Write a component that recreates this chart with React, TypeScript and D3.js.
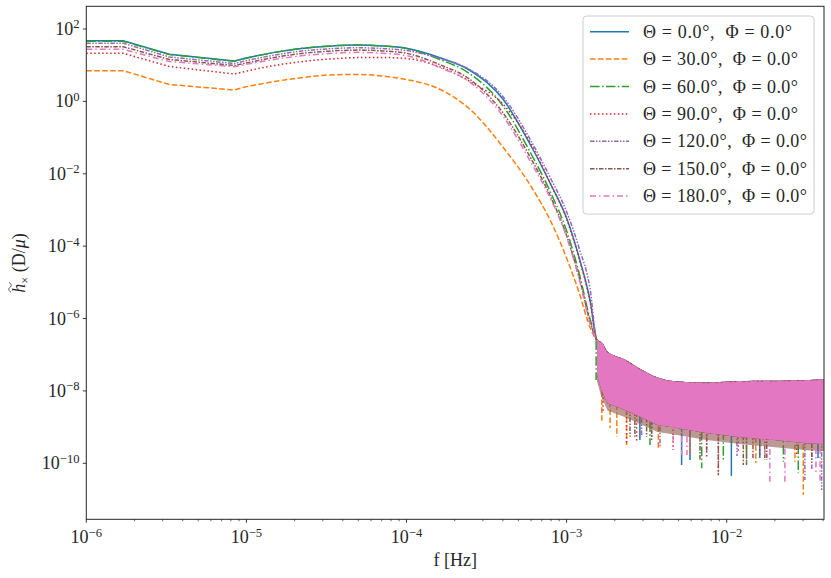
import React, { useEffect, useRef } from 'react';
import * as d3 from 'd3';

// legend labels, one per orientation
const labels = [
  'Θ = 0.0°,  Φ = 0.0°',
  'Θ = 30.0°,  Φ = 0.0°',
  'Θ = 60.0°,  Φ = 0.0°',
  'Θ = 90.0°,  Φ = 0.0°',
  'Θ = 120.0°,  Φ = 0.0°',
  'Θ = 150.0°,  Φ = 0.0°',
  'Θ = 180.0°,  Φ = 0.0°',
];

// smooth part of the spectrum (f in Hz)
const freqs = [1e-6, 1.7e-6, 3.3e-6, 8.4e-6, 9.8e-6, 1.5e-5, 2.2e-5, 3.3e-5, 4.9e-5, 7e-5, 1e-4, 1.6e-4, 2.5e-4, 4e-4, 6e-4, 8e-4, 1e-3, 1.2e-3, 1.4e-3];

const hTheta0 = [47.5, 47.5, 20.0, 13.1, 15.5, 22.6, 28.9, 33.5, 35.9, 34.1, 29.3, 16.3, 7.13, 1.16, 5.85e-2, 4.89e-3, 6.0e-4, 4.7e-5, 3.25e-6];
const hTheta30 = [7.04, 7.04, 2.93, 2.06, 2.5, 3.54, 4.51, 5.36, 5.57, 5.03, 4.02, 2.2, 0.596, 5.49e-2, 4.45e-3, 4.65e-4, 4.7e-5, 5.07e-6, 5.83e-7];
const hTheta60 = [46.0, 46.0, 19.7, 12.8, 15.3, 22.6, 29.1, 33.9, 36.1, 34.1, 28.7, 14.6, 5.71, 0.76, 3.56e-2, 2.85e-3, 2.67e-4, 1.73e-5, 9.95e-7];
const hTheta90 = [21.3, 21.3, 9.2, 5.71, 6.69, 9.8, 12.5, 14.8, 16.2, 16.4, 15.3, 9.2, 3.5, 0.846, 6.64e-2, 4.89e-3, 5.62e-4, 4.41e-5, 3.05e-6];
const hTheta120 = [40.3, 40.3, 16.9, 11.1, 13.1, 19.1, 24.5, 28.4, 30.4, 28.9, 25.3, 15.6, 7.51, 1.37, 8.04e-2, 7.07e-3, 8.95e-4, 8.6e-5, 6.88e-6];
const hTheta150 = [32.4, 32.4, 14.4, 9.8, 11.3, 16.4, 21.0, 24.4, 26.1, 24.8, 21.3, 10.5, 4.0, 0.487, 2.61e-2, 2.18e-3, 1.97e-4, 1.35e-5, 8.6e-7];
const hTheta180 = [27.5, 27.5, 12.6, 9.08, 10.4, 14.4, 18.2, 21.0, 22.6, 21.4, 18.4, 8.74, 3.35, 0.394, 2.03e-2, 1.91e-3, 1.79e-4, 1.19e-5, 7.4e-7];

// noise floor above ~1.5 mHz: upper and lower envelope of the dense part
const noiseFreqs = [1.55e-3, 1.65e-3, 1.8e-3, 2.3e-3, 2.9e-3, 3.7e-3, 4.6e-3, 7.5e-3, 1.2e-2, 2e-2, 3.2e-2, 4.06e-2];
const noiseTop = [2.5e-7, 2.1e-7, 1.14e-7, 7.1e-8, 3.8e-8, 2.23e-8, 1.8e-8, 1.62e-8, 1.8e-8, 1.82e-8, 1.91e-8, 2.0e-8];
const noiseBottom = [2.75e-8, 1.06e-8, 4.6e-9, 3.0e-9, 1.9e-9, 1.14e-9, 1.0e-9, 6.9e-10, 5.3e-10, 4.4e-10, 3.6e-10, 3.4e-10];
const noiseBottom150 = [1.8e-8, 6.8e-9, 2.9e-9, 1.9e-9, 1.2e-9, 7.3e-10, 6.4e-10, 4.4e-10, 3.4e-10, 2.8e-10, 2.3e-10, 2.2e-10];

// deepest dips below the noise band [f, h]
const spikes0 = [[2.87e-3, 4.4e-10], [5.23e-3, 9.0e-11], [5.9e-3, 1.23e-10], [1.07e-2, 4.5e-11], [1.61e-2, 1.4e-10], [3.72e-2, 1.4e-10]];
const spikes30 = [[1.66e-3, 1.41e-9], [1.87e-3, 9.4e-10], [2.06e-3, 5.4e-10], [2.37e-3, 3.2e-10], [3.74e-3, 2.6e-10], [5.9e-3, 2.05e-10], [1.52e-2, 1.04e-10], [2.67e-2, 1.11e-10], [3.01e-2, 1.33e-11]];
const spikes60 = [[1.53e-3, 2.0e-8], [3.32e-3, 3.2e-10], [6.98e-3, 7.3e-11], [9.53e-3, 1.23e-10], [1.33e-2, 1.0e-10], [2.26e-2, 1.11e-10], [2.8e-2, 5.3e-11]];
const spikes90 = [[1.69e-3, 2.6e-9], [2.37e-3, 3.6e-10], [2.74e-3, 3.9e-10], [3.4e-3, 5.4e-10], [4.63e-3, 2.33e-10], [7.5e-3, 1.52e-10], [8.87e-3, 5.3e-11], [1.18e-2, 1.89e-10], [1.61e-2, 1.69e-10], [2.74e-2, 1.52e-10]];
const spikes120 = [[2.94e-3, 5.4e-10], [3.83e-3, 2.64e-10], [5.9e-3, 1.59e-10], [1.16e-2, 1.59e-10], [3.08e-2, 3.45e-11], [3.4e-2, 6.5e-11], [3.92e-2, 1.83e-11]];
const spikes150 = [[2.49e-3, 5.4e-10], [2.67e-3, 5.4e-10], [3.16e-3, 5.4e-10], [3.4e-3, 4.4e-10], [6.81e-3, 1.23e-10], [7.5e-3, 2.09e-10], [8.87e-3, 4.7e-11], [1.27e-2, 9.0e-11], [1.33e-2, 9.0e-11], [1.46e-2, 1.4e-10], [1.73e-2, 1.23e-10], [1.78e-2, 1.23e-10], [3.4e-2, 1.11e-10]];
const spikes180 = [[4.63e-3, 2.33e-10], [5.23e-3, 1.69e-10], [5.65e-3, 1.69e-10], [1.73e-2, 1.52e-10], [1.86e-2, 3.1e-11], [2.31e-2, 3.1e-11], [3.61e-2, 5.4e-11], [3.83e-2, 2.8e-11]];

const xTicks = [-6, -5, -4, -3, -2];
const yTicks = [2, 0, -2, -4, -6, -8, -10];

const series = [hTheta0, hTheta30, hTheta60, hTheta90, hTheta120, hTheta150, hTheta180];
const spikes = [spikes0, spikes30, spikes60, spikes90, spikes120, spikes150, spikes180];
const colors = ['#1f77b4', '#ff7f0e', '#2ca02c', '#d62728', '#9467bd', '#8c564b', '#e377c2'];
const dashes = ['none', '5.55,2.4', '9.6,2.4,1.5,2.4', '1.5,2.475', '4.5,1.5,1.5,1.5,1.5,1.5', '4.5,1.5,1.5,1.5', '6,3,1.5,3'];
// legend text widths, matching the TeX rendering
const legendWidths = [149, 155, 155, 155, 164, 164, 164];

const FONT = "'Liberation Serif', 'DejaVu Serif', serif";

const App: React.FC = () => {
  const svgRef = useRef<SVGSVGElement | null>(null);

  useEffect(() => {
    if (!svgRef.current) return;
    const svg = d3.select(svgRef.current);
    svg.selectAll('*').remove();

    const L = 86.3, R = 824, T = 6.3, B = 519.3;
    const x = d3.scaleLog().domain([1e-6, 0.04054]).range([L, R]);
    const y = d3.scaleLog().domain([2.84e-12, 423.6]).range([B, T]);

    svg.append('defs').append('clipPath').attr('id', 'plot-clip')
      .append('rect').attr('x', L).attr('y', T).attr('width', R - L).attr('height', B - T);

    const plot = svg.append('g').attr('clip-path', 'url(#plot-clip)');

    // log-log interpolation of the band top, used as spike start
    const lf = noiseFreqs.map(Math.log10);
    const topAt = d3.scaleLinear().domain(lf).range(noiseTop.map(Math.log10)).clamp(true);

    // low-frequency part has sharp kinks, the rest is smooth
    const lineLin = d3.line<[number, number]>().x((d) => x(d[0])).y((d) => y(d[1]));
    const lineSmooth = d3.line<[number, number]>()
      .x((d) => x(d[0]))
      .y((d) => y(d[1]))
      .curve(d3.curveMonotoneX);

    series.forEach((vals, i) => {
      const bottom = i === 5 ? noiseBottom150 : noiseBottom;
      const band = d3.area<number>()
        .x((_, k) => x(noiseFreqs[k]))
        .y0((_, k) => y(bottom[k]))
        .y1((d) => y(d));
      plot.append('path')
        .datum(noiseTop)
        .attr('fill', colors[i])
        .attr('fill-opacity', i === 5 ? 0.6 : 1)
        .attr('d', band);

      const pts: [number, number][] = freqs.map((f, k) => [f, vals[k]] as [number, number])
        .concat(noiseFreqs.map((f, k) => [f, noiseTop[k]] as [number, number]));
      const d = (lineLin(pts.slice(0, 5)) || '') + (lineSmooth(pts.slice(4)) || '').replace(/^M/, 'L');
      plot.append('path')
        .attr('fill', 'none')
        .attr('stroke', colors[i])
        .attr('stroke-width', 1.5)
        .attr('stroke-dasharray', dashes[i])
        .attr('d', d);

      spikes[i].forEach(([f, v]) => {
        plot.append('line')
          .attr('x1', x(f)).attr('x2', x(f))
          .attr('y1', y(Math.pow(10, topAt(Math.log10(f)))))
          .attr('y2', y(v))
          .attr('stroke', colors[i])
          .attr('stroke-width', 1.5)
          .attr('stroke-dasharray', dashes[i]);
      });
    });

    // frame
    svg.append('rect')
      .attr('x', L).attr('y', T).attr('width', R - L).attr('height', B - T)
      .attr('fill', 'none').attr('stroke', '#262626').attr('stroke-width', 1);

    const supText = (sel: d3.Selection<SVGTextElement, unknown, null, undefined>, e: number) => {
      sel.append('tspan').text('10');
      sel.append('tspan').attr('dy', -6.5).attr('font-size', 12.6).text(e < 0 ? `−${-e}` : `${e}`);
    };

    // x ticks
    const xAxis = svg.append('g');
    xTicks.forEach((e) => {
      const px = x(Math.pow(10, e));
      xAxis.append('line').attr('x1', px).attr('x2', px).attr('y1', B).attr('y2', B + 3.5)
        .attr('stroke', '#262626').attr('stroke-width', 0.9);
      const t = xAxis.append('text').attr('x', px).attr('y', 543)
        .attr('text-anchor', 'middle').attr('font-family', FONT).attr('font-size', 18).attr('fill', '#262626');
      supText(t as any, e);
      for (let k = 2; k <= 9; k++) {
        const f = k * Math.pow(10, e);
        if (f > 0.04054) break;
        xAxis.append('line').attr('x1', x(f)).attr('x2', x(f)).attr('y1', B).attr('y2', B + 2)
          .attr('stroke', '#262626').attr('stroke-width', 0.7);
      }
    });

    // y ticks
    const yAxis = svg.append('g');
    yTicks.forEach((e) => {
      const py = y(Math.pow(10, e));
      yAxis.append('line').attr('x1', L - 3.5).attr('x2', L).attr('y1', py).attr('y2', py)
        .attr('stroke', '#262626').attr('stroke-width', 0.9);
      const t = yAxis.append('text').attr('x', 79.5).attr('y', py + 6)
        .attr('text-anchor', 'end').attr('font-family', FONT).attr('font-size', 18).attr('fill', '#262626');
      supText(t as any, e);
    });

    // axis labels
    svg.append('text').attr('x', (L + R) / 2).attr('y', 566)
      .attr('text-anchor', 'middle').attr('font-family', FONT).attr('font-size', 18).attr('fill', '#262626')
      .text('f [Hz]');

    const yl = svg.append('g').attr('transform', 'translate(25,263) rotate(-90)');
    const ylt = yl.append('text').attr('x', 0).attr('y', 0)
      .attr('text-anchor', 'middle').attr('font-family', FONT).attr('font-size', 18).attr('fill', '#262626')
      .style('white-space', 'pre');
    ylt.append('tspan').attr('font-style', 'italic').text('h');
    ylt.append('tspan').attr('dy', 4).attr('font-size', 12.6).text('×');
    ylt.append('tspan').attr('dy', -4).text(' (D/');
    ylt.append('tspan').attr('font-style', 'italic').text('μ');
    ylt.append('tspan').text(')');
    const node = ylt.node() as SVGTextElement;
    const s = node.getStartPositionOfChar(0).x;
    const en = node.getEndPositionOfChar(0).x;
    const cx = (s + en) / 2 + 1;
    yl.append('path')
      .attr('d', `M${cx - 5},-14 C${cx - 3},-17 ${cx - 1},-16.5 ${cx},-15 S${cx + 3},-13 ${cx + 5},-16`)
      .attr('fill', 'none').attr('stroke', '#262626').attr('stroke-width', 0.8);

    // legend
    const lg = svg.append('g');
    lg.append('rect').attr('x', 583).attr('y', 16).attr('width', 231).attr('height', 198).attr('rx', 3.5)
      .attr('fill', '#fff').attr('fill-opacity', 0.8).attr('stroke', '#cccccc').attr('stroke-width', 1);
    labels.forEach((lab, i) => {
      const cy = 31.7 + i * 27.4;
      lg.append('line').attr('x1', 590).attr('x2', 629).attr('y1', cy).attr('y2', cy)
        .attr('stroke', colors[i]).attr('stroke-width', 1.5).attr('stroke-dasharray', dashes[i]);
      lg.append('text').attr('x', 643).attr('y', cy + 6)
        .attr('font-family', FONT).attr('font-size', 18).attr('fill', '#262626')
        .attr('textLength', legendWidths[i]).attr('lengthAdjust', 'spacing')
        .style('white-space', 'pre').text(lab);
    });
  }, []);

  return (
    <svg
      ref={svgRef}
      width={831}
      height={578}
      style={{ position: 'absolute', left: 0, top: 0, background: '#fff' }}
    />
  );
};

export default App;
